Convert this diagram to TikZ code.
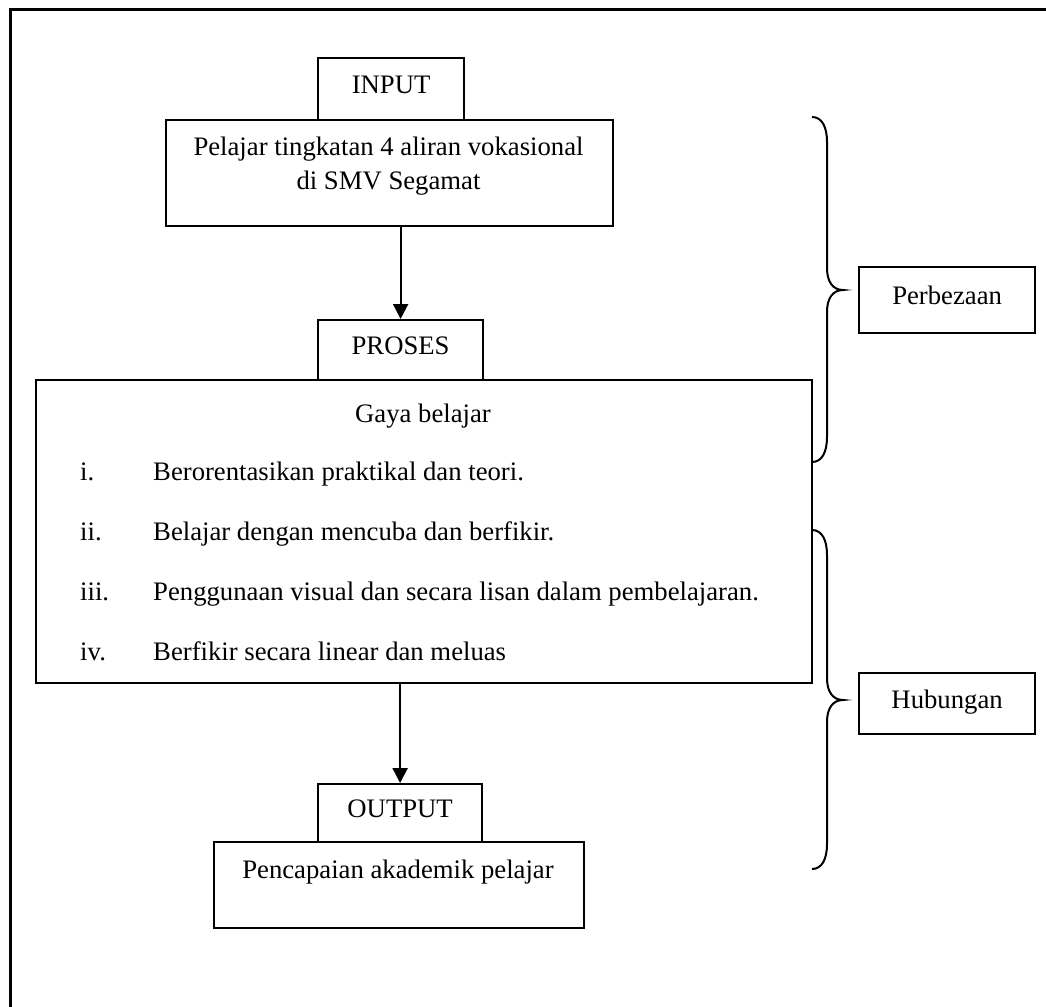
\documentclass[tikz,border=0pt]{standalone}
\usepackage{fontspec}
\setmainfont{Liberation Serif}
\usetikzlibrary{arrows.meta,calc}
\begin{document}
\begin{tikzpicture}[x=1pt,y=-1pt,
  font=\fontsize{26.7}{32}\selectfont,
  box/.style={draw,line width=2.2pt,inner sep=0pt,anchor=north west},
  lbl/.style={text height=18pt,text depth=9pt},
  txt/.style={inner sep=0pt},
  arr/.style={line width=2.2pt,-{Triangle[length=15pt,width=15pt]}},
  brc/.style={line width=2pt}]
\useasboundingbox (0,0) rectangle (1046,1006);
\draw[line width=3pt] (10,10) rectangle (1080,1040);

% boxes
\node[box,lbl,minimum width=146,minimum height=62] (inp) at (317,57) {INPUT};
\node[box,minimum width=447,minimum height=106] (pel) at (165,119) {};
\node[box,lbl,minimum width=165,minimum height=60] (pros) at (317,319) {PROSES};
\node[box,minimum width=776,minimum height=303] (gb) at (35,379) {};
\node[box,lbl,minimum width=164,minimum height=58] (outp) at (317,783) {OUTPUT};
\node[box,minimum width=370,minimum height=86] (pen) at (213,841) {};
\node[box,lbl,minimum width=176,minimum height=66] (perb) at (858,266) {Perbezaan};
\node[box,lbl,minimum width=176,minimum height=61] (hub) at (858,672) {Hubungan};

% texts inside boxes
\node[txt,anchor=base] (pel1) at (388.5,155) {Pelajar tingkatan 4 aliran vokasional};
\node[txt,anchor=base] (pel2) at (388.5,189) {di SMV Segamat};
\node[txt,anchor=base] (gaya) at (423,422) {Gaya belajar};
\node[txt,anchor=base west] (n1) at (80,480) {i.};
\node[txt,anchor=base west] (t1) at (153,480) {Berorentasikan praktikal dan teori.};
\node[txt,anchor=base west] (n2) at (80,540) {ii.};
\node[txt,anchor=base west] (t2) at (153,540) {Belajar dengan mencuba dan berfikir.};
\node[txt,anchor=base west] (n3) at (80,600) {iii.};
\node[txt,anchor=base west] (t3) at (153,600) {Penggunaan visual dan secara lisan dalam pembelajaran.};
\node[txt,anchor=base west] (n4) at (80,660) {iv.};
\node[txt,anchor=base west] (t4) at (153,660) {Berfikir secara linear dan meluas};
\node[txt,anchor=base] (pentxt) at (398,878) {Pencapaian akademik pelajar};

% arrows
\draw[arr] (pel.south -| pros.north) -- (pros.north);
\draw[arr] (gb.south -| outp.north) -- (outp.north);

% braces
\coordinate (b1top) at (812,117);
\coordinate (b1tip) at (843,290);
\coordinate (b1bot) at (812,462);
\draw[brc] (b1top) .. controls (822,117) and (827,127) .. (827,142)
  -- (827,268) .. controls (827,282) and (833,290) .. (b1tip)
  .. controls (833,290) and (827,298) .. (827,312)
  -- (827,437) .. controls (827,452) and (822,462) .. (b1bot);
\coordinate (b2top) at (812,530);
\coordinate (b2tip) at (843,700);
\coordinate (b2bot) at (812,869);
\draw[brc] (b2top) .. controls (822,530) and (827,540) .. (827,555)
  -- (827,678) .. controls (827,692) and (833,700) .. (b2tip)
  .. controls (833,700) and (827,708) .. (827,722)
  -- (827,844) .. controls (827,859) and (822,869) .. (b2bot);
\end{tikzpicture}
\end{document}
